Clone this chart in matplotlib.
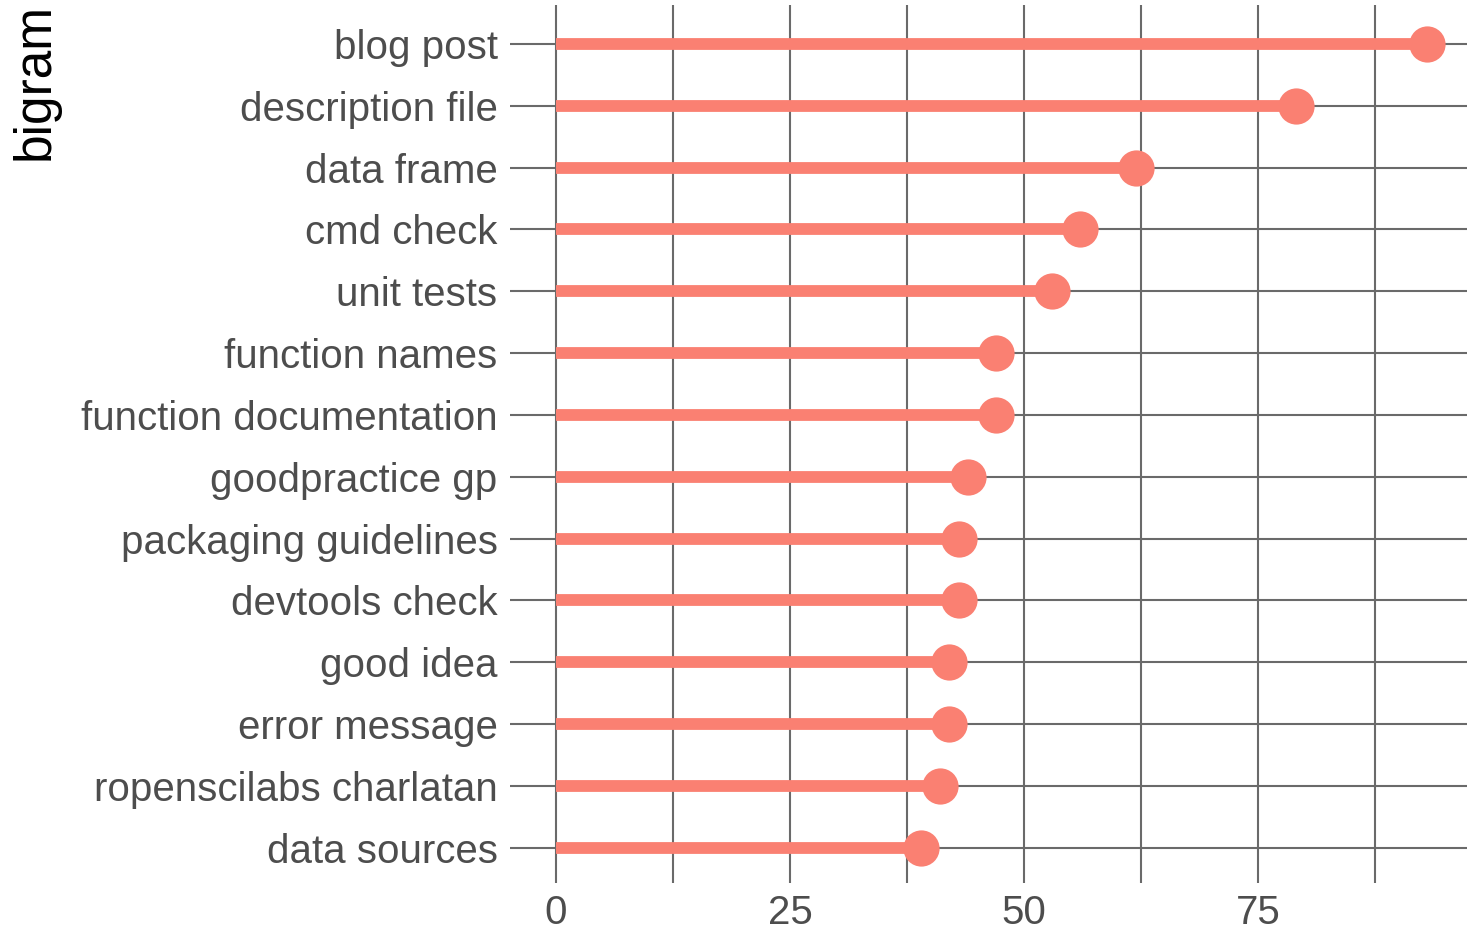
import matplotlib.pyplot as plt
import numpy as np

plt.rcParams["font.family"] = ["Liberation Sans", "DejaVu Sans"]

# bigram counts, top to bottom as shown
bigrams = [
    "blog post", "description file", "data frame", "cmd check", "unit tests",
    "function names", "function documentation", "goodpractice gp",
    "packaging guidelines", "devtools check", "good idea", "error message",
    "ropenscilabs charlatan", "data sources",
]
counts = [93, 79, 62, 56, 53, 47, 47, 44, 43, 43, 42, 42, 41, 39]

salmon = "#FA8072"
grid_col = "#6a6a6a"
text_col = "#4D4D4D"

fig = plt.figure(figsize=(14.67, 9.34), dpi=100)
ax = fig.add_axes([0.3477, 0.0546, 0.6523, 0.94])

y = np.arange(len(bigrams))
ax.hlines(y, 0, counts, color=salmon, linewidth=8.5, zorder=3)
ax.scatter(counts, y, s=680, color=salmon, zorder=4, linewidths=0)

ax.set_xlim(-4.9, 97.3)
ax.set_ylim(len(bigrams) - 0.43, -0.63)

ax.set_yticks(y)
ax.set_yticklabels(bigrams)
ax.set_xticks([0, 25, 50, 75])
ax.set_xticks([12.5, 37.5, 62.5, 87.5], minor=True)

ax.grid(True, which="major", color=grid_col, linewidth=1.5, zorder=1)
ax.grid(True, which="minor", axis="x", color=grid_col, linewidth=1.5, zorder=1)
ax.set_axisbelow(True)

for s in ax.spines.values():
    s.set_visible(False)
ax.tick_params(axis="both", which="both", length=0, labelsize=29, colors=text_col)
ax.tick_params(axis="y", pad=9)
ax.tick_params(axis="x", pad=8)

fig.text(0.024, 0.997, "bigram", rotation=90, ha="center", va="top", fontsize=37, color="black")

fig.savefig("out.png", dpi=100)
